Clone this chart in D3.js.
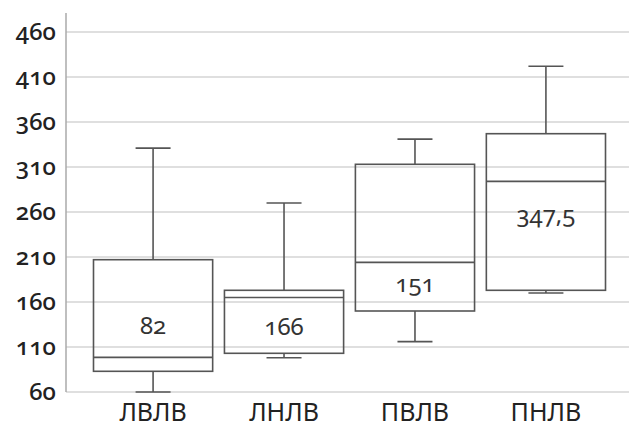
<!DOCTYPE html>
<html><head><meta charset="utf-8">
<script src="https://cdn.jsdelivr.net/npm/d3@7"></script>
<style>
html,body{margin:0;padding:0;background:#fff;}
svg{display:block;font-family:"Noto Sans",sans-serif;font-feature-settings:"onum" 1;font-variant-numeric:oldstyle-nums;}
</style></head>
<body><svg id="c" width="629" height="430"></svg>
<script>
const categories = ["ЛВЛВ", "ЛНЛВ", "ПВЛВ", "ПНЛВ"];
const whiskerLow  = [60, 98, 116, 170];
const q1          = [83, 103, 150, 173];
const median      = [98.5, 165, 204, 294];
const q3          = [207, 173, 313, 347];
const whiskerHigh = [331, 270, 341, 422];
const boxLabels   = ["82", "166", "151", "347,5"];
const labelValue  = [134, 133, 181, 257];
const yTicks      = [60, 110, 160, 210, 260, 310, 360, 410, 460];

const svg = d3.select("#c");
const W = 629;
const y = d3.scaleLinear().domain([60, 460]).range([392, 32]);
const x = d3.scaleBand().domain(categories).range([66, 633]).paddingInner(0.09).paddingOuter(0.21);

// gridlines
svg.append("g").selectAll("line").data(yTicks).join("line")
  .attr("x1", 66).attr("x2", W)
  .attr("y1", d => y(d)).attr("y2", d => y(d))
  .attr("stroke", "#d4d4d4").attr("stroke-width", 1.5);

// y axis line
svg.append("line").attr("x1", 66).attr("x2", 66).attr("y1", 13).attr("y2", y(60))
  .attr("stroke", "#aaa").attr("stroke-width", 1.5);

// y tick labels
svg.append("g").selectAll("text").data(yTicks).join("text")
  .attr("x", 56).attr("y", d => y(d)).attr("dy", "0.32em")
  .attr("text-anchor", "end").attr("font-size", 24).attr("font-weight", 500).attr("fill", "#222")
  .text(d => d);

// boxes
const data = categories.map((c, i) => ({c, lo: whiskerLow[i], q1: q1[i], med: median[i], q3: q3[i], hi: whiskerHigh[i], label: boxLabels[i], lv: labelValue[i]}));
const g = svg.append("g").selectAll("g").data(data).join("g");
const stroke = "#555", sw = 1.6, capW = 35;
const cx = d => x(d.c) + x.bandwidth() / 2;

g.append("line").attr("x1", cx).attr("x2", cx).attr("y1", d => y(d.hi)).attr("y2", d => y(d.q3))
  .attr("stroke", stroke).attr("stroke-width", sw);
g.append("line").attr("x1", cx).attr("x2", cx).attr("y1", d => y(d.q1)).attr("y2", d => y(d.lo))
  .attr("stroke", stroke).attr("stroke-width", sw);
g.append("line").attr("x1", d => cx(d) - capW/2).attr("x2", d => cx(d) + capW/2)
  .attr("y1", d => y(d.hi)).attr("y2", d => y(d.hi)).attr("stroke", stroke).attr("stroke-width", sw);
g.append("line").attr("x1", d => cx(d) - capW/2).attr("x2", d => cx(d) + capW/2)
  .attr("y1", d => y(d.lo)).attr("y2", d => y(d.lo)).attr("stroke", stroke).attr("stroke-width", sw);
g.append("rect").attr("x", d => x(d.c)).attr("width", x.bandwidth())
  .attr("y", d => y(d.q3)).attr("height", d => y(d.q1) - y(d.q3))
  .attr("fill", "none").attr("stroke", stroke).attr("stroke-width", sw);
g.append("line").attr("x1", d => x(d.c)).attr("x2", d => x(d.c) + x.bandwidth())
  .attr("y1", d => y(d.med)).attr("y2", d => y(d.med)).attr("stroke", stroke).attr("stroke-width", sw);
g.append("text").attr("x", cx).attr("y", d => y(d.lv)).attr("dy", "0.35em")
  .attr("text-anchor", "middle").attr("font-size", 24).attr("fill", "#333")
  .text(d => d.label);

// category labels
svg.append("g").selectAll("text").data(categories).join("text")
  .attr("x", d => x(d) + x.bandwidth() / 2).attr("y", 421)
  .attr("text-anchor", "middle").attr("font-size", 25).attr("fill", "#222")
  .text(d => d);
</script></body></html>
